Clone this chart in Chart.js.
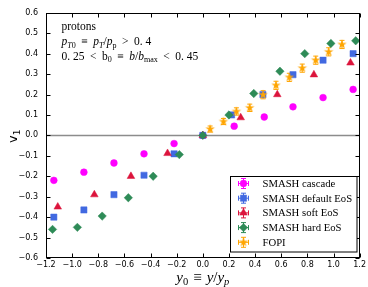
<!DOCTYPE html>
<html>
<head>
<meta charset="utf-8">
<script src="https://cdn.jsdelivr.net/npm/chart.js@4.4.0/dist/chart.umd.min.js"></script>
<style>
  html, body { margin: 0; padding: 0; background: #fff; }
  #wrap { width: 368px; height: 287px; position: relative; }
</style>
</head>
<body>
<div id="wrap"><canvas id="grafico"></canvas></div>
<script>
// data
const cascadeX = [-1.14, -0.91, -0.68, -0.45, -0.22, 0, 0.24, 0.47, 0.69, 0.92, 1.15];
const cascadeY = [-0.22, -0.18, -0.135, -0.09, -0.04, 0, 0.045, 0.09, 0.14, 0.185, 0.225];
const defaultX = [-1.14, -0.91, -0.68, -0.45, -0.22, 0, 0.22, 0.46, 0.69, 0.92, 1.15];
const defaultY = [-0.4, -0.365, -0.29, -0.195, -0.09, 0, 0.1, 0.2, 0.297, 0.368, 0.4];
const softX = [-1.11, -0.83, -0.55, -0.27, 0, 0.29, 0.57, 0.85, 1.13];
const softY = [-0.35, -0.29, -0.2, -0.088, 0, 0.087, 0.2, 0.297, 0.355];
const hardX = [-1.15, -0.96, -0.77, -0.57, -0.38, -0.18, 0, 0.2, 0.39, 0.59, 0.78, 0.98, 1.17];
const hardY = [-0.46, -0.45, -0.395, -0.305, -0.2, -0.094, 0, 0.1, 0.205, 0.314, 0.4, 0.45, 0.463];
const fopiX = [0.056, 0.158, 0.257, 0.359, 0.461, 0.56, 0.662, 0.761, 0.864, 0.963, 1.065];
const fopiY = [0.031, 0.068, 0.117, 0.135, 0.199, 0.245, 0.284, 0.329, 0.368, 0.409, 0.445];
const fopiErr = [0.015, 0.015, 0.018, 0.018, 0.02, 0.02, 0.02, 0.02, 0.02, 0.02, 0.02];
const seriesNames = ["SMASH cascade", "SMASH default EoS", "SMASH soft EoS", "SMASH hard EoS", "FOPI"];

const xMin = -1.2, xMax = 1.2, xStep = 0.2;
const yMin = -0.6, yMax = 0.6, yStep = 0.1;

const serif = '"Liberation Serif", "DejaVu Serif", serif';
const sans = '"DejaVu Sans", sans-serif';

// filled 5 point star (matplotlib '*')
function starCanvas(r, color) {
  const c = document.createElement("canvas");
  const s = Math.ceil(r * 2 + 2);
  c.width = c.height = s;
  const g = c.getContext("2d");
  g.beginPath();
  for (let i = 0; i < 10; i++) {
    const rr = i % 2 ? r * 0.382 : r;
    const a = -Math.PI / 2 + (i * Math.PI) / 5;
    g.lineTo(s / 2 + rr * Math.cos(a), s / 2 + rr * Math.sin(a));
  }
  g.closePath();
  g.fillStyle = color;
  g.fill();
  return c;
}

const pts = (xs, ys) => xs.map((v, i) => ({ x: v, y: ys[i] }));

const cores = ["#ff00ff", "#4169e1", "#dc143c", "#2e8b57", "#ffa500"];
const estilos = [
  { pointStyle: "circle", radius: 3.4 },
  { pointStyle: "rect", radius: 4.4 },
  { pointStyle: "triangle", radius: 4.4 },
  { pointStyle: "rectRot", radius: 4.2 },
  { pointStyle: starCanvas(5, cores[4]), radius: 5 },
];
const valores = [
  pts(cascadeX, cascadeY),
  pts(defaultX, defaultY),
  pts(softX, softY),
  pts(hardX, hardY),
  pts(fopiX, fopiY),
];

const datasets = valores.map((d, i) => ({
  label: seriesNames[i],
  data: d,
  showLine: false,
  backgroundColor: cores[i],
  borderColor: cores[i],
  borderWidth: 0.5,
  pointStyle: estilos[i].pointStyle,
  pointRadius: estilos[i].radius,
  order: 5 - i, // later series on top
}));

// text with subscripts, returns the width
function rich(ctx, parts, x, yb, size, draw) {
  let cx = x;
  parts.forEach((p) => {
    const s = p.sub ? size * 0.7 : size;
    ctx.font = (p.it ? "italic " : "") + s + "px " + (p.fam || serif);
    cx += p.pre || 0;
    if (draw) ctx.fillText(p.t, cx, yb + (p.sub ? size * 0.22 : 0));
    cx += ctx.measureText(p.t).width + (p.post || 0);
  });
  return cx - x;
}

const extras = {
  id: "extras",
  beforeDatasetsDraw(chart) {
    const { ctx, chartArea: a, scales: { x, y } } = chart;
    ctx.save();
    // zero line
    const y0 = Math.round(y.getPixelForValue(0)) + 0.5;
    ctx.strokeStyle = "#8c8c8c";
    ctx.lineWidth = 1.5;
    ctx.beginPath();
    ctx.moveTo(a.left, y0);
    ctx.lineTo(a.right, y0);
    ctx.stroke();
    // FOPI error bars
    ctx.strokeStyle = cores[4];
    ctx.lineWidth = 1;
    fopiX.forEach((v, i) => {
      const px = x.getPixelForValue(v);
      const t = y.getPixelForValue(fopiY[i] + fopiErr[i]);
      const b = y.getPixelForValue(fopiY[i] - fopiErr[i]);
      ctx.beginPath();
      ctx.moveTo(px, t); ctx.lineTo(px, b);
      ctx.moveTo(px - 2.5, t); ctx.lineTo(px + 2.5, t);
      ctx.moveTo(px - 2.5, b); ctx.lineTo(px + 2.5, b);
      ctx.stroke();
    });
    ctx.restore();
  },
  afterDraw(chart) {
    const { ctx, chartArea: a, scales: { x, y } } = chart;
    ctx.save();
    // frame
    ctx.strokeStyle = "#000";
    ctx.lineWidth = 1;
    const L = Math.round(a.left) + 0.5, R = Math.round(a.right) - 0.5;
    const T = Math.round(a.top) + 0.5, B = Math.round(a.bottom) - 0.5;
    ctx.strokeRect(L, T, R - L, B - T);
    // inward ticks on all sides
    ctx.beginPath();
    x.ticks.forEach((t) => {
      const px = Math.round(x.getPixelForValue(t.value)) + 0.5;
      ctx.moveTo(px, B); ctx.lineTo(px, B - 4);
      ctx.moveTo(px, T); ctx.lineTo(px, T + 4);
    });
    y.ticks.forEach((t) => {
      const py = Math.round(y.getPixelForValue(t.value)) + 0.5;
      ctx.moveTo(L, py); ctx.lineTo(L + 4, py);
      ctx.moveTo(R, py); ctx.lineTo(R - 4, py);
    });
    ctx.stroke();

    ctx.fillStyle = "#000";
    ctx.textBaseline = "alphabetic";
    ctx.textAlign = "left";

    // y title, rotated v_1
    ctx.save();
    ctx.translate(17, 143);
    ctx.rotate(-Math.PI / 2);
    rich(ctx, [{ t: "v", fam: sans }, { t: "1", sub: true, fam: sans }], 0, 0, 13, true);
    ctx.restore();

    // x title
    const xt = [
      { t: "y", it: true }, { t: "0", sub: true },
      { t: "\u2261", pre: 5, post: 5 },
      { t: "y", it: true }, { t: "/" }, { t: "y", it: true }, { t: "p", it: true, sub: true },
    ];
    const w = rich(ctx, xt, 0, 0, 15, false);
    rich(ctx, xt, (a.left + a.right) / 2 - w / 2, 282, 15, true);

    // annotation
    const fs = 11.5;
    const gap = 5.5;
    rich(ctx, [{ t: "protons" }], 61.5, 30, fs, true);
    rich(ctx, [
      { t: "p", it: true }, { t: "T", it: true, sub: true }, { t: "0", sub: true },
      { t: "\u2261", pre: gap, post: gap },
      { t: "p", it: true }, { t: "T", it: true, sub: true }, { t: "/" },
      { t: "p", it: true }, { t: "p", sub: true },
      { t: ">", pre: gap, post: gap }, { t: "0. 4" },
    ], 61.5, 45, fs, true);
    rich(ctx, [
      { t: "0. 25" }, { t: "<", pre: gap, post: gap },
      { t: "b" }, { t: "0", sub: true },
      { t: "\u2261", pre: gap, post: gap },
      { t: "b", it: true }, { t: "/" }, { t: "b", it: true }, { t: "max", sub: true },
      { t: "<", pre: gap, post: gap }, { t: "0. 45" },
    ], 61.5, 59.5, fs, true);

    // legend box
    ctx.fillStyle = "#fff";
    ctx.fillRect(230.5, 176.5, 126.5, 75.5);
    ctx.strokeStyle = "#000";
    ctx.strokeRect(230.5, 176.5, 126.5, 75.5);
    seriesNames.forEach((nome, i) => {
      const ly = 183.5 + i * 14.7;
      const lx = 243.5;
      ctx.strokeStyle = cores[i];
      ctx.fillStyle = cores[i];
      ctx.lineWidth = 1;
      ctx.beginPath();
      ctx.moveTo(lx - 5, ly); ctx.lineTo(lx + 5, ly);
      ctx.moveTo(lx, ly - 5); ctx.lineTo(lx, ly + 5);
      ctx.moveTo(lx - 5, ly - 2.5); ctx.lineTo(lx - 5, ly + 2.5);
      ctx.moveTo(lx + 5, ly - 2.5); ctx.lineTo(lx + 5, ly + 2.5);
      ctx.moveTo(lx - 2.5, ly - 5); ctx.lineTo(lx + 2.5, ly - 5);
      ctx.moveTo(lx - 2.5, ly + 5); ctx.lineTo(lx + 2.5, ly + 5);
      ctx.stroke();
      ctx.lineWidth = 0.5;
      Chart.helpers.drawPoint(ctx, {
        pointStyle: estilos[i].pointStyle,
        radius: estilos[i].radius,
        rotation: 0,
        borderWidth: 0.5,
      }, lx, ly);
      ctx.fillStyle = "#000";
      ctx.font = "10.7px " + serif;
      ctx.textBaseline = "middle";
      ctx.fillText(nome, 262.5, ly + 0.5);
      ctx.textBaseline = "alphabetic";
    });
    ctx.restore();
  },
};

const fmt = (v) => (Math.abs(v) < 1e-9 ? "0.0" : v.toFixed(1).replace("-", "\u2212"));

new Chart(document.getElementById("grafico"), {
  type: "scatter",
  data: { datasets: datasets },
  options: {
    responsive: true,
    maintainAspectRatio: false,
    animation: false,
    layout: { padding: { left: 0, right: 8, top: 12, bottom: 0 } },
    plugins: { legend: { display: false }, tooltip: { enabled: false } },
    scales: {
      x: {
        type: "linear",
        min: xMin,
        max: xMax,
        grid: { display: false, drawTicks: false },
        border: { display: false },
        ticks: {
          stepSize: xStep,
          autoSkip: false,
          maxRotation: 0,
          padding: 2,
          color: "#000",
          font: { family: sans, size: 8 },
          callback: fmt,
        },
        afterFit: (s) => { s.height = 29; },
      },
      y: {
        type: "linear",
        min: yMin,
        max: yMax,
        grid: { display: false, drawTicks: false },
        border: { display: false },
        ticks: {
          stepSize: yStep,
          autoSkip: false,
          padding: 8,
          color: "#000",
          font: { family: sans, size: 8 },
          callback: fmt,
        },
        afterFit: (s) => { s.width = 46; },
      },
    },
  },
  plugins: [extras],
});
</script>
</body>
</html>
